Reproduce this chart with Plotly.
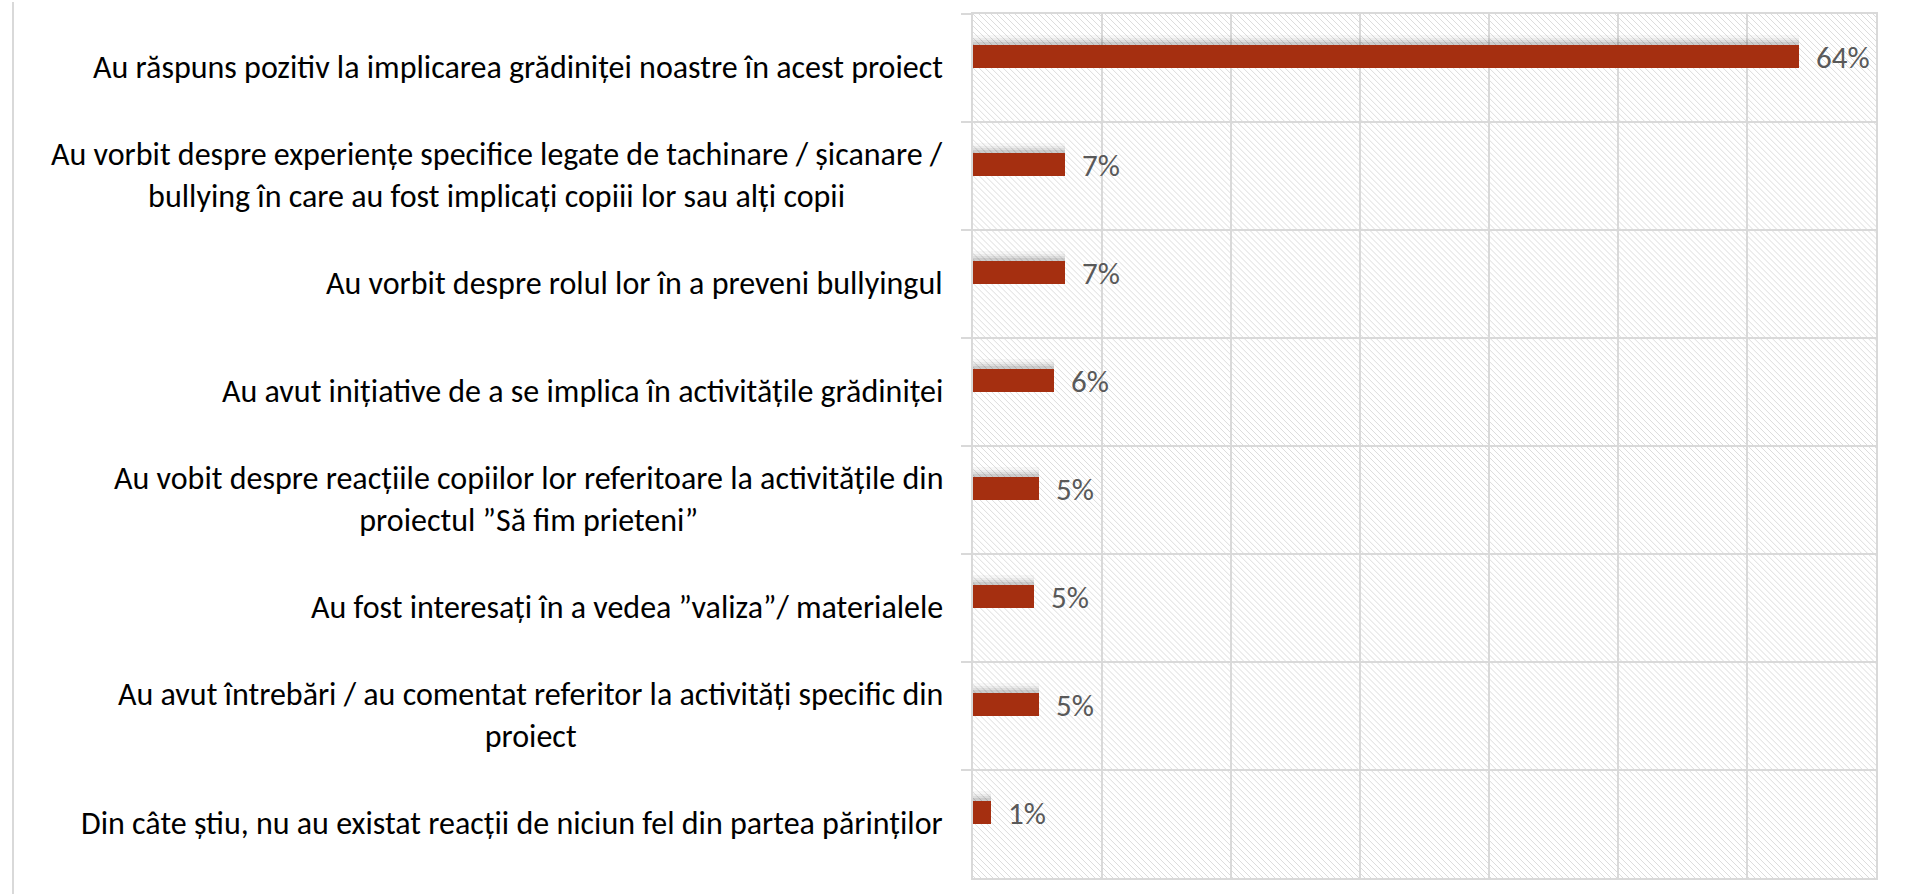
import base64
import plotly.graph_objects as go

categories = [
    "Au răspuns pozitiv la implicarea grădiniței noastre în acest proiect",
    "Au vorbit despre experiențe specifice legate de tachinare / șicanare /<br>bullying în care au fost implicați copiii lor sau alți copii",
    "Au vorbit despre rolul lor în a preveni bullyingul",
    "Au avut inițiative de a se implica în activitățile grădiniței",
    "Au vobit despre reacțiile copiilor lor referitoare la activitățile din<br>proiectul ”Să fim prieteni”",
    "Au fost interesați în a vedea ”valiza”/ materialele",
    "Au avut întrebări / au comentat referitor la activități specific din<br>proiect",
    "Din câte știu, nu au existat reacții de niciun fel din partea părinților",
]
values = [64, 7.1, 7.1, 6.3, 5.1, 4.7, 5.1, 1.4]
x_ticks = [0, 10, 20, 30, 40, 50, 60, 70]

W, H = 1906, 894
ML, MR, MT, MB = 973, 30, 12, 16
PW, PH = W - ML - MR, H - MT - MB

BAR_COLOR = "#A52F10"
GRID = "#d9d9d9"
FONT = "Carlito, Lato, sans-serif"

# hatched background (decoration)
svg = f'''<svg xmlns="http://www.w3.org/2000/svg" width="{PW}" height="{PH}" viewBox="0 0 {PW} {PH}">
<defs><pattern id="h" patternUnits="userSpaceOnUse" width="6" height="6">
<path d="M-1,-1 L7,7 M-1,5 L1,7 M5,-1 L7,1" stroke="#dcdcdc" stroke-width="1"/>
</pattern></defs>
<rect width="{PW}" height="{PH}" fill="url(#h)"/></svg>'''
src = "data:image/svg+xml;base64," + base64.b64encode(svg.encode()).decode()

BW = 0.213
fig = go.Figure()

# soft shadow layers
for k, a in enumerate([0.03, 0.045, 0.06, 0.08]):
    ext = 0.09 - k * 0.022
    fig.add_trace(go.Bar(
        x=values, y=categories, orientation="h",
        width=BW + ext, offset=-BW - ext,
        marker=dict(color=f"rgba(0,0,0,{a})", line=dict(width=0)),
        hoverinfo="skip", showlegend=False,
    ))

fig.add_trace(go.Bar(
    x=values, y=categories, orientation="h",
    width=BW, offset=-BW,
    marker=dict(color=BAR_COLOR, line=dict(width=0)),
    text=[f"\u00a0\u00a0{v:.0f}%" for v in values],
    textposition="outside",
    constraintext="none",
    textfont=dict(family=FONT, size=31, color="#595959"),
    cliponaxis=False,
    showlegend=False,
))

for c in categories:
    fig.add_annotation(
        x=0, xref="paper", y=c, yref="y",
        text=c, showarrow=False, xanchor="right", yanchor="middle",
        align="center", xshift=-28, yshift=1,
        font=dict(family=FONT, size=32, color="#000000"),
    )

fig.add_shape(type="line", xref="paper", yref="paper",
              x0=(13 - ML) / PW, x1=(13 - ML) / PW,
              y0=-MB / PH, y1=1 + MT / PH,
              line=dict(color=GRID, width=2))

fig.update_layout(
    width=W, height=H,
    margin=dict(l=ML, r=MR, t=MT, b=MB),
    paper_bgcolor="white", plot_bgcolor="rgba(0,0,0,0)",
    barmode="overlay", bargap=0,
    images=[dict(source=src, xref="paper", yref="paper", x=0, y=1,
                 sizex=1, sizey=1, sizing="stretch", xanchor="left",
                 yanchor="top", layer="below")],
    xaxis=dict(range=[0, 70], tickvals=x_ticks, showticklabels=False,
               showgrid=True, gridcolor=GRID, gridwidth=1.5,
               zeroline=False, showline=True, linecolor=GRID, linewidth=1.5,
               mirror=True, ticks=""),
    yaxis=dict(type="category", categoryorder="array", categoryarray=categories,
               autorange="reversed", tickson="boundaries", ticks="outside",
               ticklen=10, tickcolor=GRID, tickwidth=1.5,
               showticklabels=False, showgrid=True, gridcolor=GRID,
               gridwidth=1.5, showline=True, linecolor=GRID, linewidth=1.5,
               mirror=True, zeroline=False),
)

fig.write_html(
    "out.html",
    config={"displayModeBar": False},
    post_script="document.body.style.margin='0';document.body.style.overflow='hidden';",
)
